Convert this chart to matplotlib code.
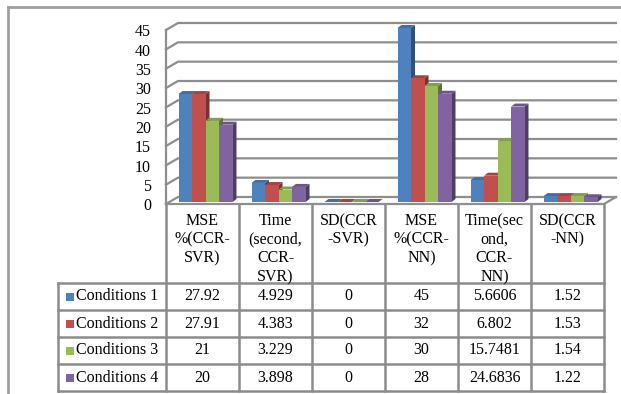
import matplotlib
matplotlib.use("Agg")
import matplotlib.pyplot as plt
import matplotlib.colors as mcolors
from matplotlib.patches import Polygon, Rectangle

# ---- data -------------------------------------------------------------
categories = ["MSE\n%(CCR-\nSVR)", "Time\n(second,\nCCR-\nSVR)", "SD(CCR\n-SVR)",
              "MSE\n%(CCR-\nNN)", "Time(sec\nond,\nCCR-\nNN)", "SD(CCR\n-NN)"]
series_names = ["Conditions 1", "Conditions 2", "Conditions 3", "Conditions 4"]
cond1 = [27.92, 4.929, 0, 45, 5.6606, 1.52]
cond2 = [27.91, 4.383, 0, 32, 6.802, 1.53]
cond3 = [21, 3.229, 0, 30, 15.7481, 1.54]
cond4 = [20, 3.898, 0, 28, 24.6836, 1.22]
series_values = [cond1, cond2, cond3, cond4]
y_ticks = [0, 5, 10, 15, 20, 25, 30, 35, 40, 45]

# ---- style --------------------------------------------------------------
colors = ["#4F81BD", "#C0504D", "#9BBB59", "#8064A2"]
grid_color = "#8E8E8E"
table_color = "#8C8C8C"
frame_color = "#A0A0A0"
FONT = "Liberation Serif"
FS = 11.5

W, H = 621, 394
fig = plt.figure(figsize=(W / 100, H / 100), dpi=100)
fig.patch.set_facecolor("white")

# page axes in pixel units for the data table and frame
page = fig.add_axes([0, 0, 1, 1])
page.set_xlim(0, W)
page.set_ylim(H, 0)
page.axis("off")

# plot area (front plane of the 3-D box)
left_px, floor_px, right_px, top_px = 166, 204, 604, 30
ax = fig.add_axes([left_px / W, 1 - floor_px / H,
                   (right_px - left_px) / W, (floor_px - top_px) / H])
ax.set_xlim(-0.5, len(categories) - 0.5)
ax.set_ylim(0, max(y_ticks))
ax.axis("off")

ux = (right_px - left_px) / len(categories)          # pixels per category
uy = (floor_px - top_px) / max(y_ticks)              # pixels per value unit


def dx(p):
    return p / ux


def dy(p):
    return p / uy


def shade(c, f):
    r, g, b = mcolors.to_rgb(c)
    return (r * f, g * f, b * f)


# back wall / floor depth
wall_dx, wall_dy = dx(12), dy(7)
x_lo, x_hi = -0.5, len(categories) - 0.5

for v in y_ticks:
    ax.plot([x_lo, x_lo + wall_dx, x_hi + wall_dx], [v, v + wall_dy, v + wall_dy],
            color=grid_color, lw=1.6, clip_on=False, solid_joinstyle="miter", zorder=1)
ax.plot([x_lo, x_lo], [0, max(y_ticks)], color=grid_color, lw=1.6, clip_on=False, zorder=1)
ax.plot([x_lo, x_hi, x_hi + wall_dx], [0, 0, wall_dy], color=grid_color, lw=1.6,
        clip_on=False, solid_joinstyle="miter", zorder=1)

# y tick labels
for v in y_ticks:
    ax.annotate(str(v), (x_lo, v), xytext=(-15, -2.5), textcoords="offset pixels",
                ha="right", va="center", fontsize=FS, family=FONT, annotation_clip=False)

# 3-D columns
bar_w = 13.5 / ux
group_shift = 3 / ux
lift = dy(2)
bdx, bdy = dx(4), dy(3)
n = len(series_values)
for i in range(len(categories)):
    start = i - n * bar_w / 2 + group_shift
    for j, vals in enumerate(series_values):
        v = vals[i]
        c = colors[j]
        x0 = start + j * bar_w
        x1 = x0 + bar_w
        y0 = lift
        y1 = v + lift
        side = Polygon([(x1, y0), (x1, y1), (x1 + bdx, y1 + bdy), (x1 + bdx, y0 + bdy)],
                       closed=True, facecolor=shade(c, 0.62), lw=0, clip_on=False, zorder=3)
        top = Polygon([(x0, y1), (x1, y1), (x1 + bdx, y1 + bdy), (x0 + bdx, y1 + bdy)],
                      closed=True, facecolor=shade(c, 0.85), lw=0, clip_on=False, zorder=3)
        front = Rectangle((x0, y0), bar_w, v, facecolor=c, lw=0, clip_on=False, zorder=3)
        for p in (side, top, front):
            ax.add_patch(p)

# ---- data table ---------------------------------------------------------
fig.canvas.draw()
col_edges = [ax.transData.transform((k - 0.5, 0))[0] for k in range(len(categories) + 1)]
col_edges = [page.transData.inverted().transform((e, 0))[0] for e in col_edges]
col_centers = [(a + b) / 2 for a, b in zip(col_edges[:-1], col_edges[1:])]

legend_left = 58
header_bottom = 283
row_h = 27
row_edges = [header_bottom + k * row_h for k in range(len(series_names) + 1)]
table_bottom = row_edges[-1]

for e in col_edges:
    page.plot([e, e], [floor_px, table_bottom], color=table_color, lw=1.8, zorder=2)
page.plot([legend_left, legend_left], [header_bottom, table_bottom], color=table_color, lw=1.8)
for r in row_edges:
    page.plot([legend_left, col_edges[-1]], [r, r], color=table_color, lw=1.8)

# header text
line_h = 18.7
for cx, cat in zip(col_centers, categories):
    for k, line in enumerate(cat.split("\n")):
        page.text(cx, 221 + k * line_h, line, ha="center", va="center",
                  fontsize=FS, family=FONT)

# rows
for j, (name, vals) in enumerate(zip(series_names, series_values)):
    cy = (row_edges[j] + row_edges[j + 1]) / 2
    page.add_patch(Rectangle((66, cy - 4), 8, 8, facecolor=colors[j], lw=0))
    page.text(76, cy, name, ha="left", va="center", fontsize=FS, family=FONT)
    for cx, v in zip(col_centers, vals):
        page.text(cx, cy, f"{v:g}", ha="center", va="center", fontsize=FS, family=FONT)

# outer frame
page.plot([8, W], [7, 7], color=frame_color, lw=2)
page.plot([8, 8], [7, H], color=frame_color, lw=2)

fig.savefig("out.png", dpi=100, facecolor="white")
